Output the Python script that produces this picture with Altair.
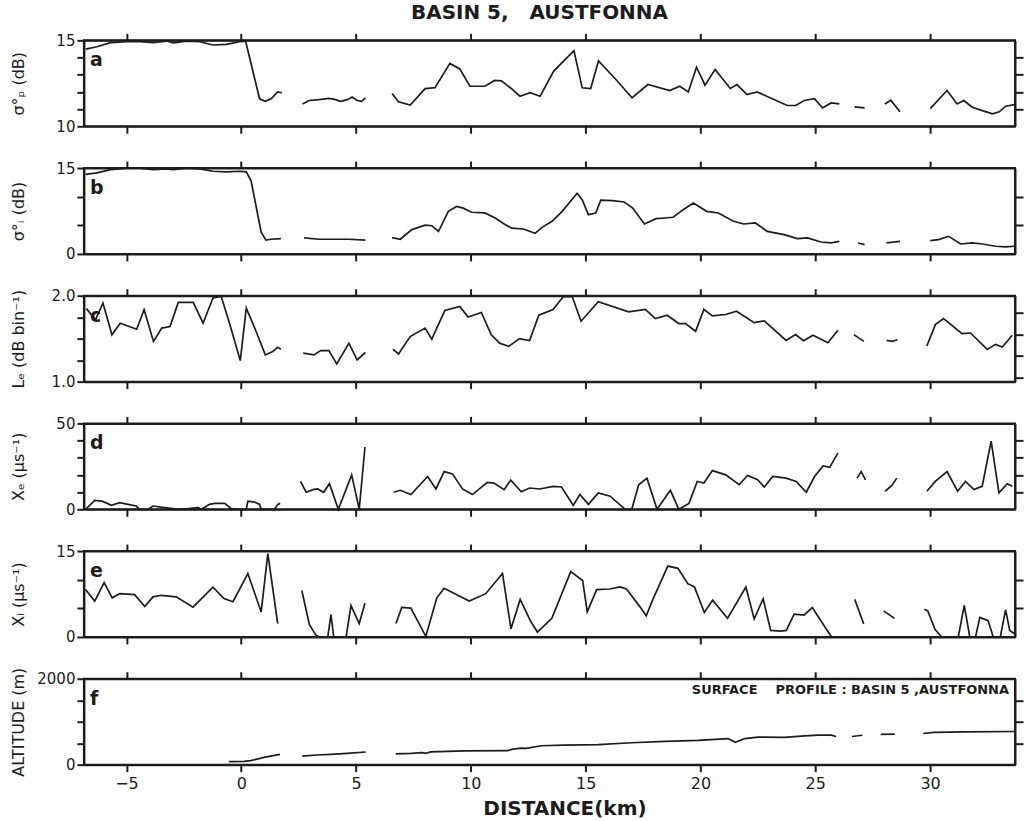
import altair as alt
import pandas as pd

# ---------------- data (distance km, value); None separates gaps ----------------
X_TICKS = [-5, 0, 5, 10, 15, 20, 25, 30]

A_KM = [-6.78, -6.28, -5.70, -4.98, -4.40, -3.82, -3.25, -2.96, -2.38, -1.80, -1.23, -0.65, -0.07, 0.19, 0.80, 1.05, 1.30, 1.59, 1.77,
        None,
        2.67, 2.96, 3.39, 3.82, 4.11, 4.33, 4.62, 4.83, 5.05, 5.24, 5.41,
        None,
        6.57, 6.85, 7.36, 8.01, 8.44, 9.09, 9.52, 9.96, 10.61, 11.04, 11.33, 11.76, 12.14, 12.58, 13.02, 13.61, 14.49, 14.85,
        15.22, 15.56, 16.32, 17.02, 17.71, 18.66, 19.10, 19.47, 19.83, 20.20, 20.64, 21.30, 21.59, 22.03, 22.47, 23.78, 24.15,
        24.52, 24.96, 25.32, 25.69, 26.05,
        None,
        26.71, 27.15,
        None,
        28.03, 28.29, 28.69,
        None,
        30.01, 30.74, 31.18, 31.47, 31.84, 32.28, 32.72, 33.01, 33.30, 33.67]
A_VAL = [14.49, 14.63, 14.87, 14.92, 14.92, 14.87, 14.96, 14.85, 14.96, 14.92, 14.73, 14.77, 14.92, 14.96, 11.6, 11.45, 11.6, 12.0, 11.95,
         None,
         11.30, 11.50, 11.55, 11.62, 11.55, 11.45, 11.55, 11.70, 11.50, 11.45, 11.65,
         None,
         11.91, 11.43, 11.24, 12.19, 12.25, 13.66, 13.34, 12.33, 12.33, 12.67, 12.65, 12.20, 11.75, 11.95, 11.75, 13.21, 14.40, 12.24,
         12.20, 13.80, 12.72, 11.65, 12.43, 12.08, 12.33, 12.00, 13.44, 12.39, 13.31, 12.20, 12.43, 11.85, 12.00, 11.21, 11.21,
         11.50, 11.60, 11.07, 11.36, 11.30,
         None,
         11.13, 11.07,
         None,
         11.30, 11.52, 10.84,
         None,
         11.03, 12.08, 11.30, 11.50, 11.11, 10.91, 10.72, 10.84, 11.17, 11.26]

B_KM = [-6.78, -6.28, -5.70, -4.98, -4.40, -3.82, -3.25, -2.96, -2.38, -1.80, -1.23, -0.65, -0.07, 0.22, 0.43, 0.65, 0.87, 1.08, 1.30, 1.73,
        None,
        2.74, 3.39, 3.97, 4.69, 5.41,
        None,
        6.57, 6.93, 7.43, 8.01, 8.30, 8.59, 9.02, 9.38, 9.67, 10.03, 10.61, 11.04, 11.47, 11.78, 12.29, 12.80, 13.10, 13.54,
        13.98, 14.63, 14.85, 15.12, 15.44, 15.66, 16.17, 16.68, 17.05, 17.56, 18.07, 18.44, 18.81, 19.25, 19.69, 20.27, 20.78,
        21.44, 21.88, 22.39, 22.91, 23.64, 24.22, 24.66, 25.25, 25.69, 26.05,
        None,
        26.86, 27.15,
        None,
        28.10, 28.69,
        None,
        30.01, 30.37, 30.81, 31.33, 31.84, 32.28, 32.86, 33.30, 33.67]
B_VAL = [13.88, 14.16, 14.72, 15.0, 15.0, 14.72, 14.85, 14.72, 15.0, 14.85, 14.44, 14.33, 14.44, 14.33, 12.76, 8.28, 3.81, 2.41, 2.57, 2.69,
         None,
         2.80, 2.57, 2.57, 2.57, 2.41,
         None,
         2.85, 2.57, 4.25, 5.04, 4.93, 3.92, 7.44, 8.28, 8.00, 7.28, 7.16, 6.32, 5.20, 4.50, 4.36, 3.60, 4.65, 5.70,
         7.44, 10.60, 9.48, 6.86, 7.15, 9.40, 9.30, 9.07, 8.02, 5.23, 6.16, 6.28, 6.40, 7.73, 8.90, 7.44, 7.15,
         5.70, 5.23, 5.41, 3.95, 3.37, 2.67, 2.79, 2.09, 1.92, 2.21,
         None,
         1.92, 1.63,
         None,
         1.92, 2.21,
         None,
         2.33, 2.50, 3.08, 1.74, 1.92, 1.74, 1.34, 1.22, 1.34]

C_KM = [-6.74, -6.35, -6.02, -5.63, -5.27, -4.55, -4.23, -3.82, -3.46, -3.10, -2.74, -2.09, -1.66, -1.23, -0.87, -0.51, -0.04, 0.22,
        0.65, 1.05, 1.37, 1.59, 1.73,
        None,
        2.70, 3.17, 3.46, 3.82, 4.16, 4.69, 5.05, 5.41,
        None,
        6.61, 6.85, 7.36, 8.01, 8.30, 8.87, 9.52, 9.88, 10.46, 10.89, 11.26, 11.65, 12.12, 12.56, 12.96, 13.58, 14.02, 14.42,
        14.80, 15.55, 16.87, 17.60, 18.04, 18.55, 19.06, 19.35, 19.79, 20.15, 20.52, 21.10, 21.57, 22.34, 22.78, 23.73, 24.14,
        24.49, 24.90, 25.55, 25.99,
        None,
        26.68, 27.12,
        None,
        28.11, 28.35, 28.58,
        None,
        29.86, 30.23, 30.59, 31.39, 31.76, 32.49, 32.85, 33.15, 33.58]
C_VAL = [1.85, 1.72, 1.914, 1.545, 1.68, 1.61, 1.837, 1.467, 1.623, 1.642, 1.922, 1.922, 1.68, 1.973, 1.992, 1.68, 1.245, 1.856,
         1.584, 1.311, 1.35, 1.40, 1.377,
         None,
         1.331, 1.311, 1.362, 1.362, 1.206, 1.447, 1.253, 1.339,
         None,
         1.377, 1.323, 1.525, 1.623, 1.494, 1.829, 1.875, 1.751, 1.805, 1.545, 1.447, 1.41, 1.50, 1.477, 1.773, 1.84, 1.988, 1.988,
         1.703, 1.93, 1.812, 1.84, 1.734, 1.773, 1.676, 1.676, 1.586, 1.84, 1.766, 1.781, 1.82, 1.687, 1.707, 1.48, 1.547,
         1.477, 1.539, 1.453, 1.598,
         None,
         1.547, 1.469,
         None,
         1.48, 1.469, 1.488,
         None,
         1.414, 1.664, 1.734, 1.559, 1.566, 1.375, 1.434, 1.402, 1.539]

D_KM = [-6.78, -6.38, -6.06, -5.65, -5.29, -4.93, -4.57, -4.42, -4.06, -3.84, -3.33, -2.75, -2.32, -1.88, -1.74, -1.38, -1.16,
        -0.72, -0.43, 0.0, 0.22, 0.29, 0.58, 0.80, 0.87, 1.45, 1.59, 1.70,
        None,
        2.58, 2.83, 3.12, 3.33, 3.59, 3.84, 4.23, 4.81, 5.14, 5.39,
        None,
        6.64, 6.93, 7.39, 8.12, 8.48, 8.84, 9.20, 9.64, 10.07, 10.72, 11.01, 11.45, 11.74, 12.20, 12.56, 13.0, 13.58, 13.95,
        14.46, 14.75, 15.12, 15.55, 16.07, 16.72, 17.01, 17.31, 17.67, 18.11, 18.69, 19.06, 19.50, 19.86, 20.15, 20.52, 21.10,
        21.69, 22.05, 22.49, 22.78, 23.15, 23.73, 24.17, 24.61, 24.97, 25.34, 25.63, 25.99,
        None,
        26.82, 27.0, 27.19,
        None,
        28.04, 28.33, 28.55,
        None,
        29.86, 30.23, 30.74, 31.20, 31.54, 31.91, 32.27, 32.66, 33.0, 33.36, 33.58]
D_VAL = [0, 5.15, 4.77, 2.29, 3.82, 2.86, 1.91, 0, 0, 1.91, 0.95, 0, 0.4, 0.95, 0, 2.86, 3.44,
         3.44, 0.4, 0, 0, 4.77, 4.2, 2.86, 0, 0, 2.86, 3.44,
         None,
         16.2, 9.92, 11.45, 11.83, 9.92, 14.89, 0, 20.04, 0, 36.26,
         None,
         9.92, 11.07, 8.59, 19.08, 11.83, 21.95, 20.61, 11.83, 8.59, 15.65, 15.27, 11.45, 17.0, 10.2, 12.40, 11.83, 13.36, 12.98,
         2.29, 8.59, 2.86, 9.54, 7.63, 0, 0, 14.31, 18.13, 0, 11.07, 0, 3.44, 16.22, 15.27, 22.52, 20.04,
         14.31, 19.66, 17.18, 12.98, 19.08, 18.13, 16.22, 9.92, 19.08, 25.19, 24.43, 32.82,
         None,
         18.13, 21.95, 17.18,
         None,
         10.50, 13.74, 18.13,
         None,
         10.50, 16.22, 21.95, 10.50, 16.22, 11.45, 13.36, 39.69, 9.54, 14.89, 13.36]

E_KM = [-6.78, -6.38, -5.97, -5.62, -5.29, -4.64, -4.20, -3.84, -3.48, -2.83, -2.10, -1.23, -0.75, -0.36, 0.29, 0.87, 1.16, 1.59,
        None,
        2.64, 2.97, 3.26, 3.41, 3.77, 3.91, 4.03, 4.57, 4.78, 5.14, 5.39,
        None,
        6.74, 6.99, 7.39, 8.04, 8.52, 8.84, 9.93, 10.65, 11.38, 11.75, 12.15, 12.59, 12.90, 13.53, 14.35, 14.87, 15.07, 15.48,
        16.05, 16.49, 16.78, 17.36, 17.64, 17.93, 18.58, 19.02, 19.45, 19.74, 20.17, 20.53, 21.18, 21.98, 22.34, 22.73, 23.06,
        23.50, 23.74, 24.08, 24.51, 24.87, 25.38, 25.71,
        None,
        26.72, 27.11,
        None,
        27.98, 28.45,
        None,
        29.75, 29.90, 30.22, 30.51, 31.23, 31.49, 31.73, 31.98, 32.17, 32.53, 32.75, 33.06, 33.29, 33.47, 33.68]
E_VAL = [8.28, 6.27, 9.51, 6.83, 7.56, 7.39, 5.32, 7.0, 7.28, 7.0, 5.21, 8.68, 6.72, 6.16, 11.08, 4.37, 14.55, 2.35,
         None,
         8.12, 2.13, 0.28, 0, 0, 3.92, 0, 0, 5.49, 2.35, 5.88,
         None,
         2.35, 5.15, 5.04, 0.11, 6.83, 8.51, 6.27, 7.56, 11.08, 1.43, 6.56, 2.85, 0.86, 3.25, 11.41, 9.87, 4.39, 8.27,
         8.38, 8.73, 8.38, 5.30, 3.71, 6.56, 12.38, 11.98, 9.30, 8.73, 4.28, 6.44, 3.25, 8.73, 3.14, 6.67, 1.14,
         1.03, 1.14, 3.99, 3.82, 5.13, 2.0, 0,
         None,
         6.56, 2.28,
         None,
         4.56, 3.25,
         None,
         4.85, 4.56, 1.31, 0, 0, 5.53, 0, 0, 3.42, 2.85, 0, 0, 4.73, 1.14, 0.57]

F_KM = [-0.54, 0.12, 0.41, 0.99, 1.69,
        None,
        2.66, 3.31, 3.90, 4.62, 5.42,
        None,
        6.73, 7.4, 7.89, 8.03, 8.25, 9.71, 11.6, 11.82, 12.19, 12.41, 13.06, 14.08, 15.54, 17.0, 18.45, 19.9, 21.2, 21.52,
        21.93, 22.51, 23.67, 24.54, 25.12, 25.70, 25.91,
        None,
        26.6, 27.05,
        None,
        27.85, 28.46,
        None,
        29.7, 30.17, 31.5, 33.7]
F_VAL = [70, 75, 95, 170, 240,
         None,
         200, 225, 240, 262, 295,
         None,
         250, 262, 280, 262, 296, 320, 325, 360, 384, 380, 440, 456, 466, 510, 543, 567, 607, 520,
         607, 640, 636, 672, 688, 688, 656,
         None,
         656, 685,
         None,
         705, 712,
         None,
         725, 750, 765, 772]

MAIN_TITLE = "BASIN 5,\u00a0\u00a0\u00a0AUSTFONNA"
SURFACE_NOTE = "SURFACE\u00a0\u00a0\u00a0\u00a0PROFILE\u00a0: BASIN 5\u00a0,AUSTFONNA"

# ---------------- styling ----------------
INK = "#1c1c1c"
FONT = "DejaVu Sans"
XDOM = [-6.85, 33.7]
W, H = 932, 86


def frame(km, val):
    rows, seg = [], 0
    for k, v in zip(km, val):
        if k is None:
            seg += 1
            continue
        rows.append({"km": k, "val": v, "seg": seg})
    return pd.DataFrame(rows)


def panel(km, val, ydom, lticks, rticks, fmt, ytitle, letter, last=False, extra=None):
    df = frame(km, val)
    lo, hi = ydom
    xs = alt.Scale(domain=XDOM, nice=False, zero=False)
    ys = alt.Scale(domain=ydom, nice=False, zero=False)
    common = dict(domainColor=INK, domainWidth=2, tickColor=INK, tickWidth=2, grid=False,
                  labelColor=INK, titleColor=INK)
    if last:
        bottom = alt.Axis(orient="bottom", values=X_TICKS, tickSize=7, labelFont=FONT, labelFontSize=16,
                          labelPadding=4, labelFlush=False, title="DISTANCE(km)", titleFont=FONT,
                          titleFontSize=20, titleFontWeight="bold", titleX=481, titleAlign="center",
                          titlePadding=7, **common)
    else:
        bottom = alt.Axis(orient="bottom", values=X_TICKS, tickSize=7, labels=False, title=None, **common)
    left = alt.Axis(orient="left", values=lticks, tickSize=7, format=fmt,
                    labelExpr=f"datum.value == {hi} || datum.value == {lo} ? datum.label : ''",
                    labelFont=FONT, labelFontSize=15, labelPadding=2, labelFlush=False, labelOverlap=False,
                    title=ytitle, titleFont=FONT, titleFontSize=16, titleFontWeight="normal",
                    titleAngle=270, titleX=-60, titleY=H / 2, titleAlign="center", titleBaseline="alphabetic",
                    **common)
    top = alt.Axis(orient="top", values=X_TICKS, tickSize=7, labels=False, title=None, **common)
    right = alt.Axis(orient="right", values=rticks, tickSize=8, labels=False, title=None, **common)

    line = alt.Chart(df).mark_line(color=INK, strokeWidth=1.7).encode(
        x=alt.X("km:Q", scale=xs, axis=bottom),
        y=alt.Y("val:Q", scale=ys, axis=left),
        detail="seg:N",
    )
    ghost = alt.Chart(df).mark_line(strokeOpacity=0).encode(
        x=alt.X("km:Q", scale=xs, axis=top),
        y=alt.Y("val:Q", scale=ys, axis=right),
        detail="seg:N",
    )
    lab = alt.Chart(pd.DataFrame({"t": [letter]})).mark_text(
        font=FONT, fontSize=19, fontWeight="bold", align="left", baseline="alphabetic", color=INK
    ).encode(text="t:N", x=alt.value(6), y=alt.value(26))
    layers = [line, ghost, lab]
    if extra is not None:
        layers.append(extra)
    return alt.layer(*layers).resolve_axis(x="independent", y="independent").properties(width=W, height=H)


title_mark = alt.Chart(pd.DataFrame({"t": [MAIN_TITLE]})).mark_text(
    font=FONT, fontSize=20, fontWeight="bold", align="center", baseline="alphabetic", color=INK
).encode(text="t:N", x=alt.value(456), y=alt.value(-21))

surface_mark = alt.Chart(pd.DataFrame({"t": [SURFACE_NOTE]})).mark_text(
    font=FONT, fontSize=13, fontWeight="bold", align="right", baseline="alphabetic", color=INK
).encode(text="t:N", x=alt.value(W - 6), y=alt.value(15))

pa = panel(A_KM, A_VAL, [10, 15], [10, 11, 12, 13, 14, 15], [11, 12, 13, 14], "d", "σ°ₚ (dB)", "a", extra=title_mark)
pb = panel(B_KM, B_VAL, [0, 15], [0, 5, 10, 15], [5, 10], "d", "σ°ᵢ (dB)", "b")
pc = panel(C_KM, C_VAL, [1.0, 2.0], [1.0, 1.25, 1.5, 1.75, 2.0], [1.05, 1.3, 1.55, 1.8], ".1f", "Lₑ (dB bin⁻¹)", "c")
pd_ = panel(D_KM, D_VAL, [0, 50], [0, 10, 20, 30, 40, 50], [10, 20, 30, 40], "d", "Xₑ (μs⁻¹)", "d")
pe = panel(E_KM, E_VAL, [0, 15], [0, 5, 10, 15], [5, 10], "d", "Xₗ (μs⁻¹)", "e")
pf = panel(F_KM, F_VAL, [0, 2000], [0, 500, 1000, 1500, 2000], [500, 1000, 1500], "d", "ALTITUDE (m)", "f",
           last=True, extra=surface_mark)

chart = alt.vconcat(pa, pb, pc, pd_, pe, pf, spacing=41.8, bounds="flush").properties(
    padding={"left": 9, "top": 2, "right": 2, "bottom": 2},
    background="white",
).configure_view(stroke=INK, strokeWidth=2)

chart.save("out.html", embed_options={"renderer": "svg", "actions": False})
